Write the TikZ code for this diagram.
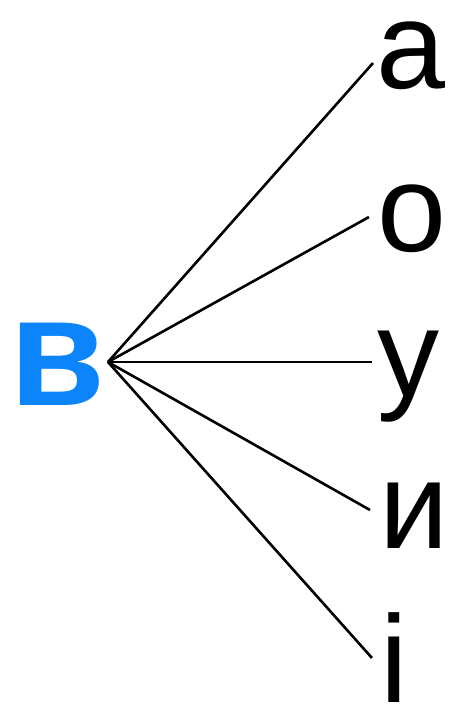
\documentclass[tikz,border=0pt]{standalone}
\usepackage{fontspec}
\setmainfont{Liberation Sans}
\definecolor{vblue}{RGB}{12,132,250}
\begin{document}
\begin{tikzpicture}[x=1pt,y=-1pt,
  letter/.style={inner sep=0pt,anchor=base west,font=\fontsize{124}{124}\selectfont},
  spoke/.style={line width=2.6pt,black}]
\useasboundingbox (0,0) rectangle (451,707);
\node[inner sep=0pt,anchor=base west,text=vblue,font=\bfseries\fontsize{156}{156}\selectfont] (v) at (9,405) {в};
\node[letter] (la) at (376,88) {а};
\node[letter] (lo) at (377,251) {о};
\node[letter] (lu) at (377,396) {у};
\node[letter] (li) at (379,548) {и};
\node[letter] (lii) at (380,702) {і};
\coordinate (apex) at (108,362);
\coordinate (ea) at (373,63);
\coordinate (eo) at (369,217);
\coordinate (eu) at (372,362);
\coordinate (ei) at (370,510);
\coordinate (eii) at (372,658);
\foreach \e in {ea,eo,eu,ei,eii} \draw[spoke] (apex) -- (\e);
\end{tikzpicture}
\end{document}
